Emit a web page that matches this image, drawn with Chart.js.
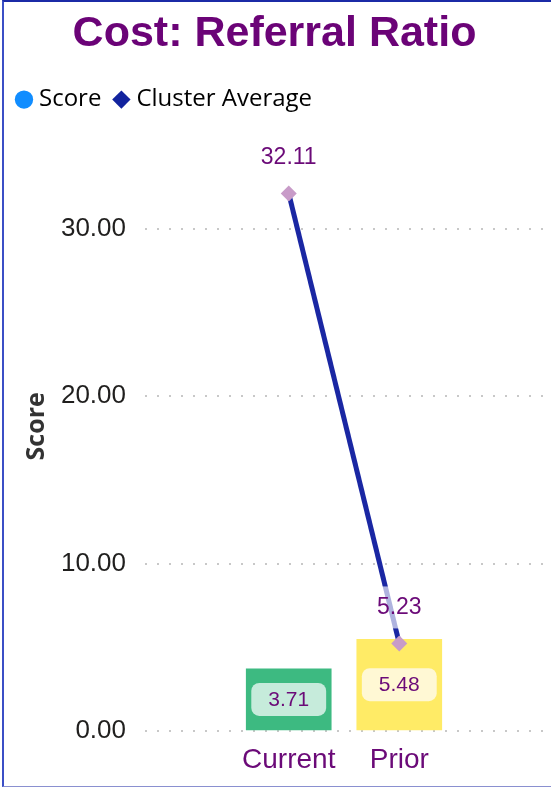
<!DOCTYPE html>
<html>
<head>
<meta charset="utf-8">
<script src="https://cdn.jsdelivr.net/npm/chart.js@4.4.0/dist/chart.umd.min.js"></script>
<style>
  html, body { margin: 0; padding: 0; background: #fff; }
  #wrap { position: relative; width: 551px; height: 788px; }
  #frame {
    position: absolute; left: 2px; top: 0; width: 549px; height: 787px;
    border-left: 2px solid #3b4fc6; border-top: 2px solid #1b2aa6; border-bottom: 1px solid #8a90d0;
    box-sizing: border-box; pointer-events: none;
  }
</style>
</head>
<body>
<div id="wrap">
  <canvas id="chart" width="551" height="788"></canvas>
  <div id="frame"></div>
</div>
<script>
// data
var categories = ["Current", "Prior"];
var scoreValues = [3.71, 5.48];
var clusterAverage = [32.11, 5.23];
var yTicks = [0, 10, 20, 30];

var barColors = ["#3dba81", "#ffeb66"];
var labelBgColors = ["#c6ebdb", "#fff8d4"];
var purple = "#6b0a78";

// value boxes on the bars, values above the line points
const valueLabels = {
  id: "valueLabels",
  afterDatasetsDraw(chart) {
    const ctx = chart.ctx;
    ctx.save();
    ctx.textAlign = "center";
    ctx.textBaseline = "middle";

    ctx.font = "21px 'Liberation Sans', Arial, sans-serif";
    chart.getDatasetMeta(0).data.forEach(function (bar, i) {
      var txt = scoreValues[i].toFixed(2);
      var w = ctx.measureText(txt).width + 34;
      var h = 33;
      var cy = (bar.y + bar.base) / 2;
      ctx.fillStyle = labelBgColors[i];
      ctx.beginPath();
      ctx.roundRect(bar.x - w / 2, cy - h / 2, w, h, 8);
      ctx.fill();
      ctx.fillStyle = purple;
      ctx.fillText(txt, bar.x, cy + 1);
    });

    ctx.font = "23px 'Liberation Sans', Arial, sans-serif";
    chart.getDatasetMeta(1).data.forEach(function (pt, i) {
      var txt = clusterAverage[i].toFixed(2);
      var w = ctx.measureText(txt).width + 14;
      var h = 42;
      var cy = pt.y - 36;
      ctx.fillStyle = "rgba(255,255,255,0.65)";
      ctx.fillRect(pt.x - w / 2, cy - h / 2, w, h);
      ctx.fillStyle = purple;
      ctx.fillText(txt, pt.x, cy);
    });
    ctx.restore();
  }
};

const chart = new Chart(document.getElementById("chart"), {
  data: {
    datasets: [
      {
        type: "bar",
        label: "Score",
        data: scoreValues.map(function (v, i) { return { x: i, y: v }; }),
        backgroundColor: barColors,
        barThickness: 85,
        order: 1
      },
      {
        type: "line",
        label: "Cluster Average",
        data: clusterAverage.map(function (v, i) { return { x: i, y: v }; }),
        borderColor: "#1a27a3",
        borderWidth: 5,
        pointStyle: "rectRot",
        pointRadius: 8,
        pointBackgroundColor: "#c89bc8",
        pointBorderWidth: 0,
        order: 0
      }
    ]
  },
  options: {
    responsive: false,
    animation: false,
    layout: { padding: { left: 4, right: 6, top: 0, bottom: 0 } },
    plugins: {
      title: {
        display: true,
        text: "Cost: Referral Ratio",
        color: "#6b0377",
        font: { family: "'Liberation Sans', Arial, sans-serif", size: 43, weight: "bold" },
        padding: { top: 8, bottom: 11 }
      },
      legend: {
        position: "top",
        align: "start",
        labels: {
          usePointStyle: true,
          boxHeight: 13,
          boxWidth: 6,
          padding: 17,
          color: "#605e5c",
          font: { family: "'Open Sans', 'Noto Sans', sans-serif", size: 24 },
          generateLabels: function () {
            return [
              { text: "Score", fillStyle: "#118dff", strokeStyle: "#118dff", lineWidth: 0, pointStyle: "circle", datasetIndex: 0 },
              { text: "Cluster Average", fillStyle: "#12239e", strokeStyle: "#12239e", lineWidth: 0, pointStyle: "rectRot", datasetIndex: 1 }
            ];
          }
        }
      },
      tooltip: { enabled: false }
    },
    scales: {
      x: {
        type: "linear",
        offset: false,
        min: -1.3,
        max: 2.3,
        grid: { display: false },
        border: { display: false },
        afterBuildTicks: function (scale) {
          scale.ticks = categories.map(function (c, i) { return { value: i }; });
        },
        afterFit: function (scale) { scale.height = 57; },
        ticks: {
          padding: 4,
          color: purple,
          font: { family: "'Liberation Sans', Arial, sans-serif", size: 28 },
          callback: function (v) { return categories[v]; }
        }
      },
      y: {
        min: 0,
        max: 36.4,
        afterBuildTicks: function (scale) {
          scale.ticks = yTicks.map(function (v) { return { value: v }; });
        },
        afterFit: function (scale) { scale.width = 141; },
        border: { display: false, dash: [2, 10] },
        grid: {
          color: "#c8c8c8",
          lineWidth: 2,
          drawTicks: false
        },
        ticks: {
          padding: 19,
          color: "#201f1e",
          font: { family: "'Liberation Sans', Arial, sans-serif", size: 26 },
          callback: function (v) { return v.toFixed(2); }
        },
        title: {
          display: true,
          text: "Score",
          color: "#333333",
          font: { family: "'Open Sans', 'Noto Sans', sans-serif", size: 25, weight: "bold" },
          padding: { top: 18, bottom: 0 }
        }
      }
    }
  },
  plugins: [valueLabels]
});
</script>
</body>
</html>
